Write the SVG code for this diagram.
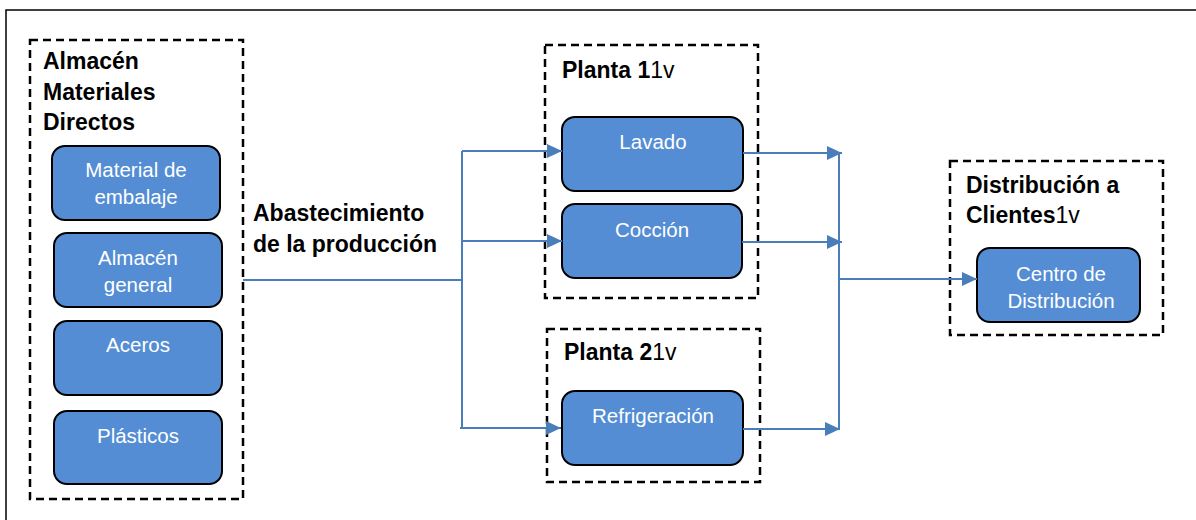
<svg xmlns="http://www.w3.org/2000/svg" width="1196" height="520" viewBox="0 0 1196 520">
<defs>
<style>
.frame{fill:none;stroke:#000;stroke-width:1.5}
.grp{fill:none;stroke:#000;stroke-width:2.5;stroke-dasharray:8 5}
.box{fill:#548DD4;stroke:#000;stroke-width:2}
.lbl{font-family:"Liberation Sans",Arial,sans-serif;font-size:20.5px;fill:#fff;text-anchor:middle}
.ttl{font-family:"Liberation Sans",Arial,sans-serif;font-size:23px;font-weight:bold;fill:#000}
.ttl tspan.n{font-weight:normal}
.con{fill:none;stroke:#4A7EBB;stroke-width:2}
</style>
<marker id="arr" markerUnits="userSpaceOnUse" markerWidth="16" markerHeight="14" refX="15" refY="7" orient="auto">
<path d="M0,0 L15,7 L0,14 Z" fill="#4A7EBB"/>
</marker>
</defs>
<rect width="1196" height="520" fill="#fff"/>
<path class="frame" d="M6,530 L6,10 L1200,10"/>

<g id="almacen">
<rect class="grp" x="30" y="40" width="213" height="459"/>
<text class="ttl" x="43" y="69">Almacén</text>
<text class="ttl" x="43" y="100">Materiales</text>
<text class="ttl" x="43" y="130">Directos</text>
</g>
<g id="material">
<rect class="box" x="52" y="146" width="168" height="74" rx="13"/>
<text class="lbl" x="136" y="177">Material de</text>
<text class="lbl" x="136" y="204">embalaje</text>
</g>
<g id="almacen-general">
<rect class="box" x="54" y="233" width="168" height="74" rx="13"/>
<text class="lbl" x="138" y="265">Almacén</text>
<text class="lbl" x="138" y="292">general</text>
</g>
<g id="aceros">
<rect class="box" x="54" y="321" width="168" height="74" rx="13"/>
<text class="lbl" x="138" y="352">Aceros</text>
</g>
<g id="plasticos">
<rect class="box" x="54" y="411" width="168" height="73" rx="13"/>
<text class="lbl" x="138" y="443">Plásticos</text>
</g>

<g id="abastecimiento">
<text class="ttl" x="253" y="221">Abastecimiento</text>
<text class="ttl" x="253" y="252">de la producción</text>
</g>

<g id="planta1">
<rect class="grp" x="545" y="45" width="213" height="253"/>
<text class="ttl" x="562" y="78">Planta 1<tspan class="n">1v</tspan></text>
</g>
<g id="lavado">
<rect class="box" x="562" y="117" width="181" height="74" rx="13"/>
<text class="lbl" x="653" y="149">Lavado</text>
</g>
<g id="coccion">
<rect class="box" x="562" y="204" width="180" height="74" rx="13"/>
<text class="lbl" x="652" y="237">Cocción</text>
</g>

<g id="planta2">
<rect class="grp" x="547" y="329" width="213" height="153"/>
<text class="ttl" x="564" y="360">Planta 2<tspan class="n">1v</tspan></text>
</g>
<g id="refrigeracion">
<rect class="box" x="562" y="391" width="181" height="74" rx="13"/>
<text class="lbl" x="653" y="423">Refrigeración</text>
</g>

<g id="distribucion">
<rect class="grp" x="950" y="161" width="213" height="174"/>
<text class="ttl" x="966" y="193">Distribución a</text>
<text class="ttl" x="966" y="223">Clientes<tspan class="n">1v</tspan></text>
</g>
<g id="centro">
<rect class="box" x="977" y="248" width="163" height="74" rx="13"/>
<text class="lbl" x="1061" y="281">Centro de</text>
<text class="lbl" x="1061" y="308">Distribución</text>
</g>

<g id="connectors">
<path class="con" d="M243,280 L462,280"/>
<path class="con" d="M462,151 L462,428"/>
<path class="con" d="M462,151 L562,151" marker-end="url(#arr)"/>
<path class="con" d="M462,241 L562,241" marker-end="url(#arr)"/>
<path class="con" d="M460,428 L561,428" marker-end="url(#arr)"/>
<path class="con" d="M743,153 L842,153" marker-end="url(#arr)"/>
<path class="con" d="M742,242 L842,242" marker-end="url(#arr)"/>
<path class="con" d="M743,429 L840,429" marker-end="url(#arr)"/>
<path class="con" d="M839,153 L839,430"/>
<path class="con" d="M839,279 L977,279" marker-end="url(#arr)"/>
</g>
</svg>
